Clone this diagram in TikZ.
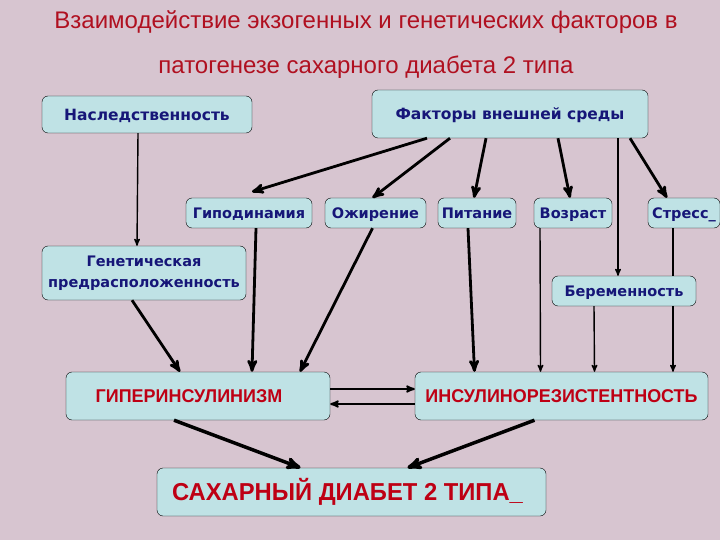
\documentclass[tikz,border=0pt]{standalone}
\usepackage{fontspec}
\setmainfont{Liberation Sans}
\newfontfamily\boxfont{DejaVu Sans}
\newfontfamily\redfont[FakeStretch=0.97]{Liberation Sans}
\usetikzlibrary{arrows,positioning}
\definecolor{bgpink}{RGB}{215,197,208}
\definecolor{boxcyan}{RGB}{191,226,229}
\definecolor{labelblue}{RGB}{22,22,120}
\definecolor{labelred}{RGB}{190,0,20}
\definecolor{titlered}{RGB}{176,16,32}
\tikzset{
>=stealth',
  factor/.style={
    rectangle,
    rounded corners=6pt,
    draw=black, thin,
    fill=boxcyan,
    text=labelblue,
    font=\boxfont\bfseries\fontsize{14.5}{21}\selectfont,
    text height=10.5pt, text depth=0pt,
    inner sep=0pt},
  result/.style={factor,
    text=labelred,
    text height=13.5pt,
    font=\redfont\bfseries\fontsize{18.5}{22}\selectfont},
  thinarrow/.style={draw, ->, line width=1.4pt},
  midarrow/.style={draw, ->, line width=1.9pt},
  thickarrow/.style={draw, ->, line width=2.8pt},
  heavyarrow/.style={draw, ->, line width=3.5pt},
}

\begin{document}
\begin{tikzpicture}[x=1pt,y=-1pt]
    \fill[bgpink] (0,0) rectangle (720,540);
    \useasboundingbox (0,0) rectangle (720,540);

    \node[text=titlered, font=\fontsize{24}{28}\selectfont] (title1) at (366,22) {Взаимодействие экзогенных и генетических факторов в};
    \node[text=titlered, font=\fontsize{24}{28}\selectfont] (title2) at (366,67) {патогенезе сахарного диабета 2 типа};

    \node[factor, minimum width=210, minimum height=37, text height=11.3pt, font=\boxfont\bfseries\fontsize{15.5}{21}\selectfont] (hered) at (147,114.5) {Наследственность};
    \node[factor, minimum width=276, minimum height=48, text height=11.3pt, font=\boxfont\bfseries\fontsize{15.5}{21}\selectfont] (env) at (510,114) {Факторы внешней среды};

    \node[factor, minimum width=126, minimum height=30] (hypo) at (249,213) {Гиподинамия};
    \node[factor, minimum width=101, minimum height=30] (obes) at (375.5,213) {Ожирение};
    \node[factor, minimum width=78, minimum height=30] (food) at (477,213) {Питание};
    \node[factor, minimum width=78, minimum height=30] (age) at (573,213) {Возраст};
    \node[factor, minimum width=72, minimum height=30] (stress) at (684,213) {Стресс\_};

    \node[factor, minimum width=204, minimum height=54, text height={}, text depth={}, align=center] (genet) at (144,273) {Генетическая\\предрасположенность};
    \node[factor, minimum width=144, minimum height=30] (preg) at (624,291) {Беременность};

    \node[result, minimum width=264, minimum height=48] (hyper) at (198,396) {ГИПЕРИНСУЛИНИЗМ\hspace*{18pt}};
    \node[result, minimum width=293, minimum height=48] (insul) at (561.5,396) {ИНСУЛИНОРЕЗИСТЕНТНОСТЬ};
    \node[result, minimum width=389, minimum height=48, text height=17.5pt, font=\redfont\bfseries\fontsize{24.5}{28}\selectfont] (diab) at (351.5,492) {САХАРНЫЙ ДИАБЕТ 2 ТИПА\_\hspace*{8pt}};

    % factors
    \draw[thinarrow] ([xshift=-9pt]hered.south) -- ([xshift=-7pt]genet.north);
    \draw[thickarrow] ([xshift=-83pt]env.south) -- ([xshift=3pt,yshift=6pt]hypo.north);
    \draw[thickarrow] ([xshift=-60pt]env.south) -- ([xshift=-3pt]obes.north);
    \draw[thickarrow] ([xshift=-24pt]env.south) -- ([xshift=-3pt]food.north);
    \draw[thickarrow] ([xshift=48pt]env.south) -- ([xshift=-3pt]age.north);
    \draw[thinarrow] ([xshift=108pt]env.south) -- ([xshift=-6pt]preg.north);
    \draw[thickarrow] ([xshift=120pt]env.south) -- ([xshift=-17pt]stress.north);

    % to hyperinsulinism / insulin resistance
    \draw[thickarrow] ([xshift=7pt]hypo.south) -- ([xshift=54pt]hyper.north);
    \draw[thickarrow] ([xshift=-3pt]obes.south) -- ([xshift=102pt]hyper.north);
    \draw[thickarrow] ([xshift=-12pt]genet.south) -- ([xshift=-18pt]hyper.north);
    \draw[thickarrow] ([xshift=-9pt]food.south) -- ([xshift=-87pt]insul.north);
    \draw[thinarrow] ([xshift=-33pt]age.south) -- ([xshift=-21pt]insul.north);
    \draw[thinarrow] ([xshift=-30pt]preg.south) -- ([xshift=33pt]insul.north);
    \draw[thinarrow, -] ([xshift=-11pt]stress.south) -- ([xshift=-11pt]stress.south |- preg.north);
    \draw[thinarrow] ([xshift=-11pt]stress.south |- preg.south) -- ([xshift=-11pt]stress.south |- insul.north);

    \draw[midarrow] ([yshift=7pt]hyper.east) -- ([yshift=7pt]insul.west);
    \draw[midarrow] ([yshift=-8pt]insul.west) -- ([yshift=-8pt]hyper.east);

    \draw[heavyarrow] ([xshift=-24pt]hyper.south) -- ([xshift=-51pt]diab.north);
    \draw[heavyarrow] ([xshift=-27pt]insul.south) -- ([xshift=56pt]diab.north);
\end{tikzpicture}
\end{document}
